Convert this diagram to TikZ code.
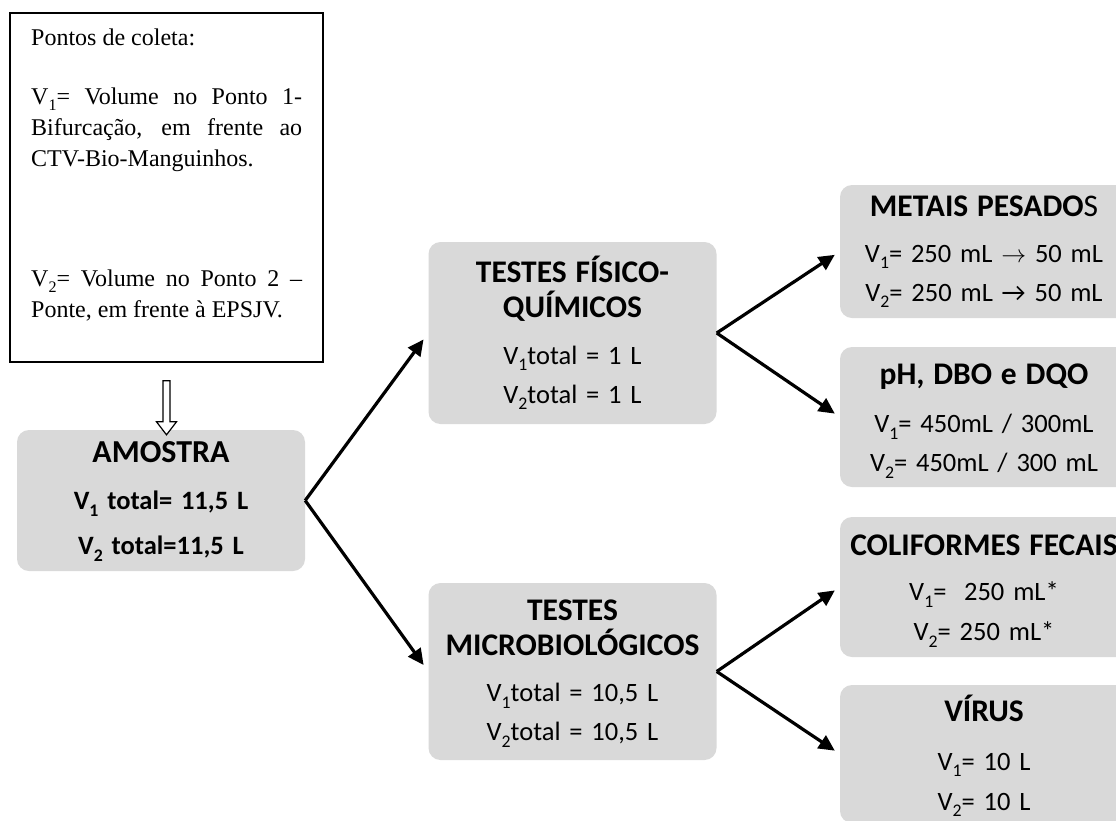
\documentclass[tikz,border=0pt]{standalone}
\usepackage{fontspec}
\usepackage{graphicx}
\setmainfont{Liberation Serif}
\newfontfamily\calibri{Carlito}
\usetikzlibrary{calc,arrows.meta}
\definecolor{boxgray}{HTML}{D9D9D9}
\newcommand{\titlef}{\fontsize{31.5}{35}\selectfont\bfseries}
\newcommand{\vsub}[1]{\raisebox{-0.24em}{\scalebox{0.67}{#1}}}
\tikzset{
  graybox/.style={fill=boxgray, rounded corners=12pt, minimum width=288pt, inner sep=0pt},
  boxtext/.style={text width=286pt, align=center, inner sep=0pt, font=\calibri\fontsize{26.5}{39}\selectfont},
  conn/.style={line width=3.2pt, -{Triangle[length=16pt,width=15pt]}, shorten >=6pt},
  hollow/.style={draw, line width=1.2pt, fill=white},
}
\begin{document}
\begin{tikzpicture}[x=1pt,y=-1pt]
  \clip (0,0) rectangle (1116,820);
  \fill[white] (0,0) rectangle (1116,820);
  % sampling points
  \node[draw, line width=1.3pt, minimum width=313pt, minimum height=349pt] (note) at (166.5,187.5) {};
  \node[anchor=north west, text width=271pt, align=justify, inner sep=0pt, font=\fontsize{24}{31}\selectfont] (notetext) at (31,29)
    {Pontos de coleta:\par\vspace{28pt}
     V\vsub{1}= Volume no Ponto 1-\linebreak Bifurcação, em frente ao\linebreak CTV-Bio-Manguinhos.\par\vspace{89pt}
     V\vsub{2}= Volume no Ponto 2 –\linebreak Ponte, em frente à EPSJV.};
  % boxes
  \node[graybox, minimum height=141pt] (amostra) at (161,500.5) {};
  \node[boxtext] (amostratext) at ([yshift=-1pt]amostra)
    {{\fontsize{32}{35}\selectfont\bfseries AMOSTRA}\\[8pt]\bfseries V\vsub{1} total= 11,5 L\\[6pt] V\vsub{2} total=11,5 L};
  \node[graybox, minimum height=182pt] (fisico) at (572.5,333) {};
  \node[boxtext] (fisicotext) at (fisico)
    {{\titlef TESTES FÍSICO-\\[-4pt] QUÍMICOS}\\[8pt] V\vsub{1}total = 1 L\\ V\vsub{2}total = 1 L};
  \node[graybox, minimum height=177pt] (micro) at (572.5,671.5) {};
  \node[boxtext] (microtext) at ([yshift=-2pt]micro)
    {{\titlef TESTES\\[-4pt] MICROBIOLÓGICOS}\\[7pt] V\vsub{1}total = 10,5 L\\ V\vsub{2}total = 10,5 L};
  \node[graybox, minimum height=133pt] (metais) at (984,251.5) {};
  \node[boxtext] (metaistext) at (metais)
    {{\titlef METAIS PESADO\mdseries S}\\[7pt] V\vsub{1}= 250 mL $\rightarrow$ 50 mL\\ V\vsub{2}= 250 mL → 50 mL};
  \node[graybox, minimum height=140pt] (ph) at (984,417) {};
  \node[boxtext] (phtext) at ([yshift=-4pt]ph)
    {{\titlef pH, DBO e DQO}\\[9pt] V\vsub{1}= 450mL / 300mL\\ V\vsub{2}= 450mL / 300 mL};
  \node[graybox, minimum height=140pt] (colif) at (984,587) {};
  \node[boxtext] (coliftext) at ([yshift=-4pt]colif)
    {{\titlef COLIFORMES FECAIS}\\[6pt] V\vsub{1}=~ 250 mL*\\[1pt] V\vsub{2}= 250 mL*};
  \node[graybox, minimum height=138pt] (virus) at (984,754) {};
  \node[boxtext] (virustext) at ([yshift=-2pt]virus)
    {{\titlef VÍRUS}\\[10pt] V\vsub{1}= 10 L\\[1pt] V\vsub{2}= 10 L};
  % connectors
  \draw[hollow] let \p1=(note.south), \p2=(amostra.north) in
    (\x1-3.5pt,\y1-18pt) -- (\x1-3.5pt,\y2+8pt) -- (\x1-10pt,\y2+8pt) -- (\x1,\y2-5pt)
    -- (\x1+10pt,\y2+8pt) -- (\x1+3.5pt,\y2+8pt) -- (\x1+3.5pt,\y1-18pt) -- cycle;
  \draw[conn, shorten >=8pt] (amostra.east) -- (fisico.west);
  \draw[conn, shorten >=8pt] (amostra.east) -- (micro.west);
  \draw[conn] (fisico.east) -- (metais.west);
  \draw[conn] (fisico.east) -- (ph.west);
  \draw[conn] (micro.east) -- (colif.west);
  \draw[conn] (micro.east) -- (virus.west);
\end{tikzpicture}
\end{document}
